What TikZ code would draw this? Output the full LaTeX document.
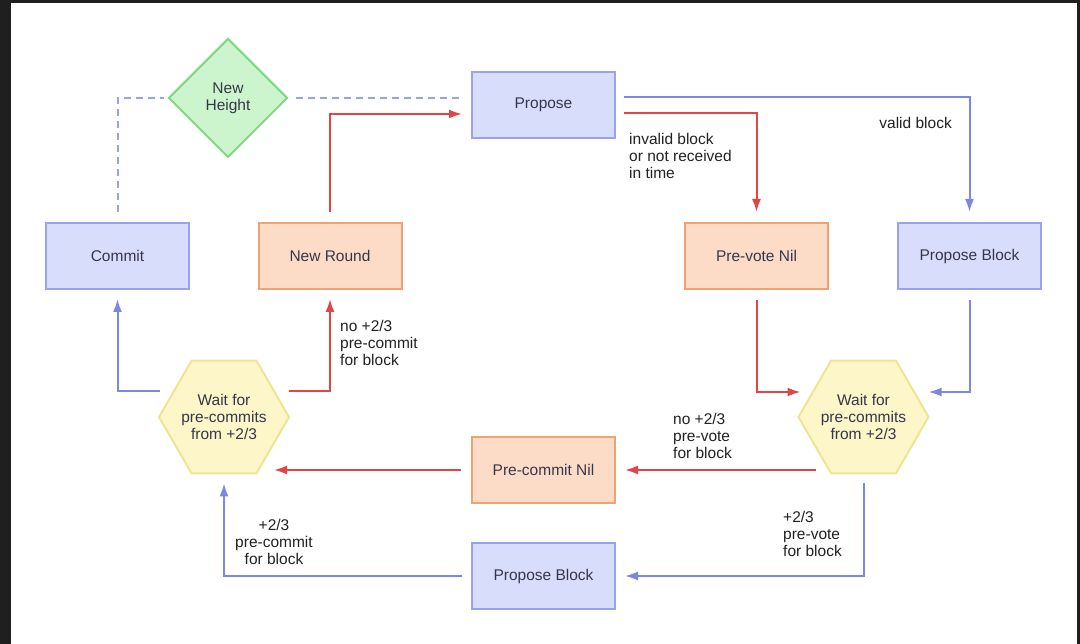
\documentclass[tikz,border=0pt]{standalone}
\usepackage{xcolor}
\usepackage{fontspec}
\setsansfont{Liberation Sans}
\usepackage{tikz}
\usetikzlibrary{calc}
\usetikzlibrary{arrows.meta}
\usetikzlibrary{shapes.geometric}
\tikzset{>={Latex[length=13pt,width=9pt]}}
\definecolor{framedark}{HTML}{1F1F1F}
\definecolor{blueline}{HTML}{7C86E4}
\definecolor{blueborder}{HTML}{98A2F0}
\definecolor{bluefill}{HTML}{D9DDFC}
\definecolor{orangeborder}{HTML}{F2A272}
\definecolor{orangefill}{HTML}{FDDCC7}
\definecolor{greenborder}{HTML}{80D980}
\definecolor{greenfill}{HTML}{CDF5CD}
\definecolor{yellowborder}{HTML}{EEE592}
\definecolor{yellowfill}{HTML}{FCF6C9}
\definecolor{redline}{HTML}{E24545}
\definecolor{boxtext}{HTML}{36364A}
\definecolor{labeltext}{HTML}{222222}

\begin{document}
\begin{tikzpicture}[x=1pt,y=-1pt,font=\sffamily\fontsize{15.5}{17}\selectfont,
	box/.style={draw,line width=2pt,minimum width=143pt,minimum height=66pt,inner sep=0pt,text=boxtext},
	bluebox/.style={box,draw=blueborder,fill=bluefill},
	orangebox/.style={box,draw=orangeborder,fill=orangefill},
	waitbox/.style={regular polygon,regular polygon sides=6,minimum size=130pt,inner sep=-15pt,line width=2pt,draw=yellowborder,fill=yellowfill,align=center,text=boxtext},
	blueflow/.style={->,color=blueline,line width=2pt},
	redflow/.style={->,color=redline,line width=2pt},
	dashflow/.style={color=blueborder,line width=2pt,dash pattern=on 7pt off 5pt},
	lbl/.style={align=left,inner sep=0pt,text=labeltext}]
	\useasboundingbox (0,0) rectangle (1080,644);
	\fill[framedark] (0,0) rectangle (1080,644);
	\fill[white] (11,3) rectangle (1077,644);
	% states
	\node[diamond,aspect=1,minimum size=119pt,inner sep=0pt,line width=2pt,draw=greenborder,fill=greenfill,align=center,text=boxtext] (newheight) at (228,98) {New\\Height};
	\node[bluebox] (propose) at (543.5,105) {Propose};
	\node[bluebox] (commit) at (117.5,256) {Commit};
	\node[orangebox] (newround) at (330,256) {New Round};
	\node[orangebox] (prevotenil) at (756.5,256) {Pre-vote Nil};
	\node[bluebox] (propblock top) at (969.5,256) {Propose Block};
	\node[waitbox] (waitL) at (224,417) {Wait for\\pre-commits\\from +2/3};
	\node[waitbox] (waitR) at (863.5,417) {Wait for\\pre-commits\\from +2/3};
	\node[orangebox] (precommitnil) at (543.5,470) {Pre-commit Nil};
	\node[bluebox] (propblock bottom) at (543.5,576) {Propose Block};
	% new height
	\draw[dashflow] ($(commit.north)+(0,-10)$) |- ($(newheight.west)+(-4,0)$);
	\draw[dashflow] ($(newheight.east)+(7,0)$) -- ($(propose.west)+(-9,-7)$);
	% propose
	\draw[redflow] ($(newround.north)+(0,-10)$) |- ($(propose.west)+(-9,9)$);
	\draw[redflow] ($(propose.east)+(8,8)$) -| ($(prevotenil.north)+(0,-10)$);
	\draw[blueflow] ($(propose.east)+(8,-8)$) -| ($(propblock top.north)+(0,-10)$);
	\node[lbl,anchor=east] (valid) at (952,123) {valid block};
	\node[lbl,anchor=west] (invalid) at (629,156) {invalid block\\or not received\\in time};
	% pre-vote
	\draw[redflow] ($(prevotenil.south)+(0,10)$) |- ($(waitR.center)+(-63,-25)$);
	\draw[blueflow] ($(propblock top.south)+(0,10)$) |- ($(waitR.center)+(65,-25)$);
	\draw[redflow] ($(waitR.center)+(-48,53)$) -- ($(precommitnil.east)+(9,0)$);
	\node[lbl,anchor=west] (no prevote) at (673,436) {no +2/3\\pre-vote\\for block};
	\draw[blueflow] ($(waitR.south)+(0,9)$) |- ($(propblock bottom.east)+(9,0)$);
	\node[lbl,anchor=west] (prevote) at (783,534) {+2/3\\pre-vote\\for block};
	% pre-commit
	\draw[redflow] ($(precommitnil.west)+(-10,0)$) -- ($(waitL.center)+(50,53)$);
	\draw[blueflow] ($(propblock bottom.west)+(-9,0)$) -| ($(waitL.south)+(0,9)$);
	\node[lbl,align=center] (precommit) at (274,542) {+2/3\\pre-commit\\for block};
	\draw[blueflow] ($(waitL.center)+(-64,-26)$) -| ($(commit.south)+(0,9)$);
	\draw[redflow] ($(waitL.center)+(65,-26)$) -| ($(newround.south)+(0,9)$);
	\node[lbl,anchor=west] (no precommit) at (340,343) {no +2/3\\pre-commit\\for block};
\end{tikzpicture}
\end{document}
